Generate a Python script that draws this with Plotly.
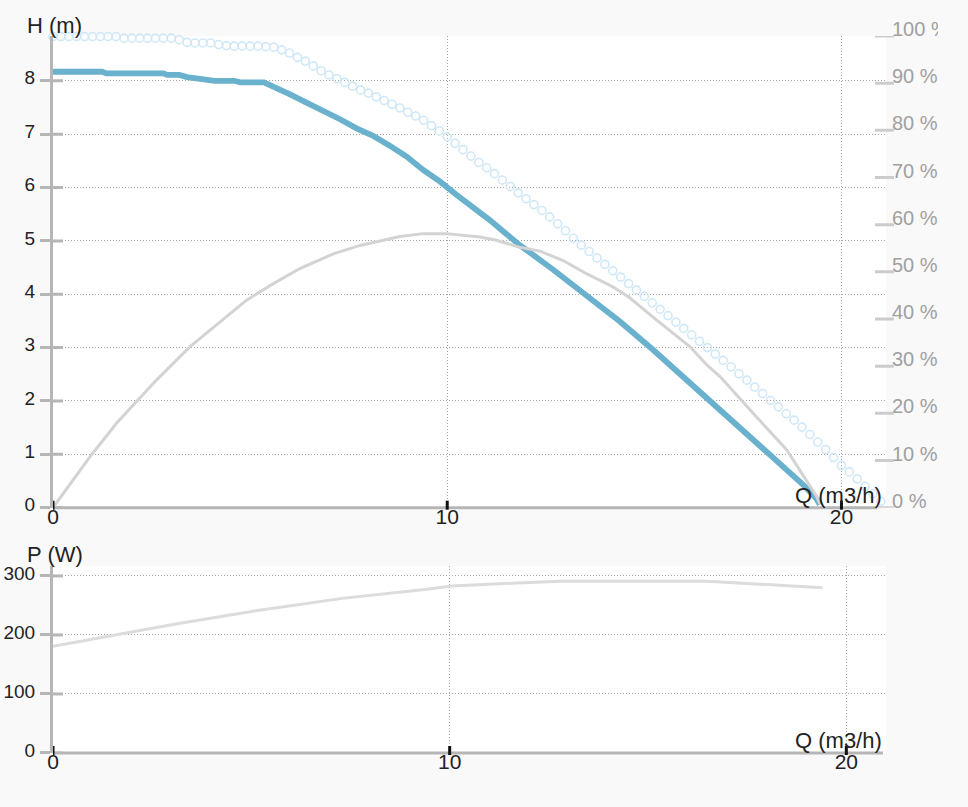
import plotly.graph_objects as go

# ---------------- data ----------------
# Head curve (m) vs flow Q (m3/h)
q_head = [0.0, 1.25, 1.35, 2.8, 2.9, 3.2, 3.4, 3.9, 4.1, 4.6, 4.75, 5.35, 5.6, 6.0, 6.43, 6.86,
          7.28, 7.7, 8.12, 8.55, 8.97, 9.39, 9.82, 10.24, 10.66, 11.08, 11.5, 11.84, 12.69, 13.53,
          14.38, 15.22, 16.07, 16.92, 17.76, 18.61, 19.03, 19.37, 19.45]
h_head = [8.17, 8.17, 8.14, 8.14, 8.11, 8.11, 8.07, 8.03, 8.0, 8.0, 7.97, 7.97, 7.89, 7.75, 7.59, 7.44,
          7.28, 7.11, 6.97, 6.78, 6.58, 6.33, 6.11, 5.86, 5.63, 5.39, 5.13, 4.92, 4.46, 3.98,
          3.49, 2.96, 2.40, 1.84, 1.27, 0.71, 0.43, 0.16, 0.06]

# Maximum head curve (m), drawn with open circles
q_max = [0.0, 0.2, 0.4, 0.6, 0.8, 1.0, 1.2, 1.4, 1.6, 1.8, 2.0, 2.2, 2.4, 2.6, 2.8, 3.0, 3.2, 3.4,
         3.6, 3.8, 4.0, 4.2, 4.4, 4.6, 4.8, 5.0, 5.2, 5.4, 5.6, 5.8, 6.0, 6.2, 6.4, 6.6, 6.8, 7.0,
         7.2, 7.4, 7.6, 7.8, 8.0, 8.2, 8.4, 8.6, 8.8, 9.0, 9.2, 9.4, 9.6, 9.8, 10.0, 10.2, 10.4,
         10.6, 10.8, 11.0, 11.2, 11.4, 11.6, 11.8, 12.0, 12.2, 12.4, 12.6, 12.8, 13.0, 13.2, 13.4,
         13.6, 13.8, 14.0, 14.2, 14.4, 14.6, 14.8, 15.0, 15.2, 15.4, 15.6, 15.8, 16.0, 16.2, 16.4,
         16.6, 16.8, 17.0, 17.2, 17.4, 17.6, 17.8, 18.0, 18.2, 18.4, 18.6, 18.8, 19.0, 19.2, 19.4,
         19.6, 19.8, 20.0, 20.2, 20.4, 20.6, 20.8, 21.0]
h_max = [8.83, 8.83, 8.83, 8.83, 8.83, 8.83, 8.83, 8.83, 8.83, 8.80, 8.80, 8.80, 8.80, 8.80, 8.80,
         8.80, 8.77, 8.72, 8.71, 8.71, 8.71, 8.68, 8.66, 8.65, 8.65, 8.65, 8.65, 8.64, 8.63, 8.58,
         8.52, 8.44, 8.37, 8.28, 8.19, 8.11, 8.04, 7.97, 7.90, 7.83, 7.77, 7.70, 7.63, 7.56, 7.49,
         7.41, 7.34, 7.26, 7.16, 7.06, 6.95, 6.83, 6.71, 6.59, 6.47, 6.37, 6.26, 6.14, 6.02, 5.90,
         5.79, 5.68, 5.57, 5.45, 5.32, 5.19, 5.05, 4.92, 4.80, 4.68, 4.56, 4.44, 4.32, 4.20, 4.08,
         3.96, 3.84, 3.72, 3.60, 3.48, 3.36, 3.24, 3.12, 3.00, 2.88, 2.76, 2.64, 2.51, 2.39, 2.26,
         2.14, 2.01, 1.89, 1.76, 1.64, 1.51, 1.37, 1.23, 1.09, 0.94, 0.79, 0.67, 0.54, 0.40, 0.26,
         0.12]

# Efficiency (%) vs Q
q_eff = [0.0, 0.52, 0.94, 1.61, 2.2, 2.63, 3.47, 4.24, 4.57, 4.91, 5.59, 6.26, 7.11, 7.79, 8.38,
         8.8, 9.39, 9.98, 10.83, 11.25, 11.84, 12.35, 12.94, 13.53, 14.21, 14.63, 15.22, 16.16,
         16.58, 16.92, 17.76, 18.61, 19.37, 19.45]
eff = [0.0, 5.9, 10.8, 17.9, 23.2, 27.1, 34.1, 39.4, 41.6, 44.0, 47.5, 50.7, 53.8, 55.6, 56.7,
       57.5, 58.1, 58.1, 57.4, 56.7, 55.2, 54.4, 52.4, 49.6, 46.8, 44.5, 40.4, 34.1,
       30.3, 27.8, 20.0, 12.3, 2.4, 0.8]

# Power (W) vs Q
q_pow = [0.0, 1.33, 3.13, 5.2, 7.29, 9.37, 10.05, 11.7, 12.8, 16.5, 17.6, 19.0, 19.4]
power = [181, 197, 219, 242, 262, 277, 283, 288, 291, 291, 287, 281, 280]

x_ticks = [0, 10, 20]
h_ticks = [0, 1, 2, 3, 4, 5, 6, 7, 8]
pct_ticks = [0, 10, 20, 30, 40, 50, 60, 70, 80, 90, 100]
pct_labels = ["0 %", "10 %", "20 %", "30 %", "40 %", "50 %", "60 %", "70 %", "80 %", "90 %", "100 %"]
p_ticks = [0, 100, 200, 300]

# ---------------- styling ----------------
FONT = "Liberation Sans, Arial, sans-serif"
BG = "#f9f9f9"
AXIS = "#b6b6b6"
GRID = "#a4a4a4"
DOTS = "1px,2px"

fig = go.Figure()

fig.add_trace(go.Scatter(x=q_max, y=h_max, mode="markers", xaxis="x", yaxis="y",
                         marker=dict(symbol="circle-open", size=8, color="#d0e8f6",
                                     line=dict(width=1.6, color="#d0e8f6")),
                         cliponaxis=False, hoverinfo="skip", showlegend=False))
fig.add_trace(go.Scatter(x=q_eff, y=eff, mode="lines", xaxis="x", yaxis="y2",
                         line=dict(color="#d3d3d3", width=3), showlegend=False))
fig.add_trace(go.Scatter(x=q_head, y=h_head, mode="lines", xaxis="x", yaxis="y",
                         line=dict(color="#69b1cc", width=5.8), showlegend=False))
fig.add_trace(go.Scatter(x=q_pow, y=power, mode="lines", xaxis="x2", yaxis="y3",
                         line=dict(color="#dcdcdc", width=3), showlegend=False))

W, H = 968, 807
ml, mr, mt, mb = 53, W - 886, 35.5, H - 753.3
pw, ph = W - ml - mr, H - mt - mb
top_dom = [(H - mb - 507.7) / ph, 1.0]
bot_dom = [0.0, (H - mb - 566) / ph]


def px_x(px):
    return (px - ml) / pw


def px_y(py):
    return (H - mb - py) / ph


xaxis_common = dict(tickvals=x_ticks, ticks="", showgrid=True, griddash=DOTS, gridcolor=GRID,
                    gridwidth=1, showline=False, zeroline=False,
                    tickfont=dict(family=FONT, size=21, color="#222"), automargin=False,
                    ticklabelstandoff=-6)
yaxis_common = dict(ticks="outside", ticklen=10, tickwidth=3, tickcolor=AXIS,
                    showgrid=True, griddash=DOTS, gridcolor=GRID, gridwidth=1,
                    showline=True, linecolor=AXIS, linewidth=3, zeroline=False,
                    tickfont=dict(family=FONT, size=19, color="#222"), ticklabelshift=-3,
                    ticklabelstandoff=1, automargin=False)

fig.update_layout(
    width=W, height=H,
    margin=dict(l=ml, r=mr, t=mt, b=mb, autoexpand=False),
    paper_bgcolor=BG, plot_bgcolor="#ffffff",
    showlegend=False,
    xaxis=dict(domain=[0, 1], anchor="y", range=[0, 21.13], **xaxis_common),
    yaxis=dict(domain=top_dom, anchor="x", range=[0, 8.84], tickvals=h_ticks, **yaxis_common),
    yaxis2=dict(overlaying="y", side="right", anchor="x", range=[0, 100], tickvals=pct_ticks,
                ticktext=pct_labels, showgrid=False, zeroline=False, showline=False, ticks="",
                tickfont=dict(family=FONT, size=20, color="#a0a0a0"), ticklabelshift=-7,
                ticklabelstandoff=5, automargin=False),
    xaxis2=dict(domain=[0, 1], anchor="y3", range=[0, 21.0], **xaxis_common),
    yaxis3=dict(domain=bot_dom, anchor="x2", range=[0, 317], tickvals=p_ticks, **yaxis_common),
)

shapes = []
# horizontal axis lines (they stop a little before the plot edge)
shapes.append(dict(type="line", xref="paper", yref="paper", x0=0, x1=px_x(877),
                   y0=top_dom[0], y1=top_dom[0], line=dict(color=AXIS, width=3), layer="below"))
shapes.append(dict(type="line", xref="paper", yref="paper", x0=0, x1=px_x(883),
                   y0=0, y1=0, line=dict(color=AXIS, width=3), layer="below"))
for v in h_ticks:
    shapes.append(dict(type="line", xref="x domain", yref="y", xsizemode="pixel", xanchor=0,
                       x0=0, x1=10, y0=v, y1=v, line=dict(color=AXIS, width=3)))
for v in p_ticks:
    shapes.append(dict(type="line", xref="x2 domain", yref="y3", xsizemode="pixel", xanchor=0,
                       x0=0, x1=10, y0=v, y1=v, line=dict(color=AXIS, width=3)))
for v in pct_ticks:
    shapes.append(dict(type="line", xref="x domain", yref="y2", xsizemode="pixel", xanchor=1,
                       x0=-11, x1=8, y0=v, y1=v, line=dict(color="#cccccc", width=3)))
# black x ticks drawn over the axis lines
for v in x_ticks:
    shapes.append(dict(type="line", xref="x", yref="y domain", ysizemode="pixel", yanchor=0,
                       x0=v, x1=v, y0=-2, y1=7, line=dict(color="#111111", width=3), layer="above"))
    shapes.append(dict(type="line", xref="x2", yref="y3 domain", ysizemode="pixel", yanchor=0,
                       x0=v, x1=v, y0=-2, y1=7, line=dict(color="#111111", width=3), layer="above"))
# clip area at the right edge of the drawing
shapes.append(dict(type="rect", xref="paper", yref="paper", x0=px_x(938), x1=1.3,
                   y0=px_y(60), y1=1.2, fillcolor=BG, line=dict(width=0), layer="above"))
fig.update_layout(shapes=shapes)

ann_font = dict(family=FONT, size=22, color="#222")
fig.add_annotation(text="H (m)", xref="paper", yref="paper", x=px_x(25), y=px_y(25),
                   xanchor="left", yanchor="middle", showarrow=False, font=ann_font)
fig.add_annotation(text="P (W)", xref="paper", yref="paper", x=px_x(25), y=px_y(555),
                   xanchor="left", yanchor="middle", showarrow=False, font=ann_font)
fig.add_annotation(text="Q (m3/h)", xref="paper", yref="paper", x=px_x(884), y=px_y(496),
                   xanchor="right", yanchor="middle", showarrow=False, font=ann_font)
fig.add_annotation(text="Q (m3/h)", xref="paper", yref="paper", x=px_x(884), y=px_y(741),
                   xanchor="right", yanchor="middle", showarrow=False, font=ann_font)

fig.write_html("out.html", config={"displayModeBar": False},
               post_script="document.body.style.margin='0px';"
                           "document.body.style.background='" + BG + "';")
